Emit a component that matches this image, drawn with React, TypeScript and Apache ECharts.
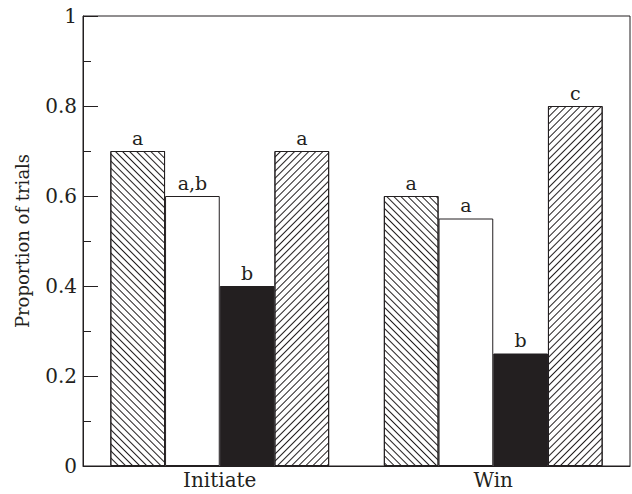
import React, { useEffect, useRef } from "react";
import * as echarts from "echarts";

const categories = ["Initiate", "Win"];
const backHatch = [0.7, 0.6];
const openBar = [0.6, 0.55];
const solidBar = [0.4, 0.25];
const fwdHatch = [0.7, 0.8];
const backHatchLetters = ["a", "a"];
const openLetters = ["a,b", "a"];
const solidLetters = ["b", "b"];
const fwdLetters = ["a", "c"];
const yTicks = [0, 0.2, 0.4, 0.6, 0.8, 1];

const FONT = "DejaVu Serif";
const INK = "#231f20";

function hatch(rot: number) {
  return {
    symbol: "rect",
    symbolSize: 1,
    dashArrayX: [1, 0],
    dashArrayY: [1, 3.6],
    rotation: rot,
    color: INK,
    backgroundColor: "#fff",
  };
}

function makeSeries(name: string, data: number[], letters: string[], fill: string, decal?: any) {
  return {
    name,
    type: "bar",
    data,
    barGap: "0%",
    barCategoryGap: "20%",
    itemStyle: {
      color: fill,
      borderColor: INK,
      borderWidth: 1,
      ...(decal ? { decal } : {}),
    },
    label: {
      show: true,
      position: "top",
      distance: 4,
      fontFamily: FONT,
      fontSize: 19,
      color: INK,
      formatter: (p: any) => letters[p.dataIndex],
    },
  };
}

export default function App() {
  const ref = useRef<HTMLDivElement>(null);
  useEffect(() => {
    if (!ref.current) return;
    const chart = echarts.init(ref.current, null, { renderer: "svg" });
    chart.setOption({
      animation: false,
      backgroundColor: "#fff",
      grid: {
        left: 83,
        right: 2,
        top: 16,
        bottom: 28,
        show: true,
        borderColor: INK,
        borderWidth: 1,
        backgroundColor: "transparent",
      },
      xAxis: {
        type: "category",
        data: categories,
        axisLine: { lineStyle: { color: INK, width: 1 } },
        axisTick: { show: false },
        axisLabel: { fontFamily: FONT, fontSize: 20, color: INK, margin: 4 },
      },
      yAxis: {
        type: "value",
        min: 0,
        max: 1,
        interval: 0.2,
        name: "Proportion of trials",
        nameLocation: "middle",
        nameGap: 52,
        nameTextStyle: { fontFamily: FONT, fontSize: 18, color: INK },
        axisLine: { show: true, lineStyle: { color: INK, width: 1 } },
        axisTick: { show: true, inside: true, length: 15, lineStyle: { color: INK } },
        minorTick: { show: true, splitNumber: 2, length: 8, lineStyle: { color: INK } },
        splitLine: { show: false },
        axisLabel: {
          fontFamily: FONT,
          fontSize: 20,
          color: INK,
          margin: 6,
          formatter: (v: number) => {
            const t = yTicks.find((x) => Math.abs(x - v) < 1e-9);
            return t === undefined ? "" : String(t);
          },
        },
      },
      series: [
        makeSeries("s1", backHatch, backHatchLetters, "#fff", hatch(Math.PI / 4)),
        makeSeries("s2", openBar, openLetters, "#fff"),
        makeSeries("s3", solidBar, solidLetters, INK),
        makeSeries("s4", fwdHatch, fwdLetters, "#fff", hatch(-Math.PI / 4)),
      ],
    });
    return () => chart.dispose();
  }, []);
  return (
    <div
      ref={ref}
      style={{ position: "absolute", left: 0, top: 0, width: 632, height: 494, background: "#fff" }}
    />
  );
}
